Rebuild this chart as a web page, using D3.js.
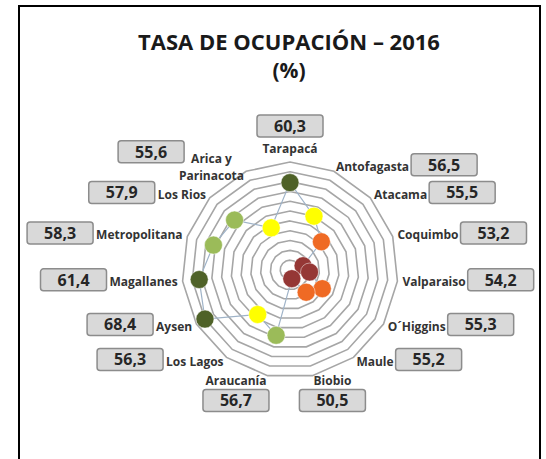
<!DOCTYPE html>
<html>
<head>
<meta charset="utf-8">
<script src="https://cdn.jsdelivr.net/npm/d3@7"></script>
<style>
  body { margin: 0; background: #fff; }
  svg text { font-family: "Open Sans", "DejaVu Sans", sans-serif; }
</style>
</head>
<body>
<div id="radar-chart"></div>
<script>
// regiones en orden horario desde arriba
var regiones = ["Tarapacá", "Antofagasta", "Atacama", "Coquimbo", "Valparaiso", "O´Higgins", "Maule",
    "Biobio", "Araucanía", "Los Lagos", "Aysen", "Magallanes", "Metropolitana", "Los Rios", "Arica y Parinacota"];

// tasa de ocupacion 2016 (%)
var tasa = [60.3, 56.5, 55.5, 53.2, 54.2, 55.3, 55.2, 50.5, 56.7, 56.3, 68.4, 61.4, 58.3, 57.9, 55.6];

// valor graficado en el eje radial (escala 0-11)
var posicion = [8.9, 6.0, 4.3, 1.4, 2.0, 3.8, 2.8, 0.9, 6.8, 5.6, 10.0, 9.3, 8.2, 7.6, 4.7];

var anillos = d3.range(1, 12);
var cortes = [55, 55.55, 56.6, 59];
var colores = ["#953735", "#ef6a24", "#ffff00", "#9bbb59", "#4f6228"];

drawRadar();

function drawRadar() {
    var width = 546, height = 459;
    var cx = 290, cy = 270, R = 108;

    var svg = d3.select("#radar-chart").append("svg")
        .attr("width", width)
        .attr("height", height);

    // marco
    svg.append("rect")
        .attr("x", 19).attr("y", 6)
        .attr("width", 521).attr("height", 480)
        .attr("fill", "none")
        .attr("stroke", "#000")
        .attr("stroke-width", 2);

    svg.append("text")
        .attr("x", 289).attr("y", 50)
        .attr("text-anchor", "middle")
        .attr("font-size", 22).attr("font-weight", "bold")
        .attr("fill", "#1a1a1a")
        .text("TASA DE OCUPACIÓN – 2016");

    svg.append("text")
        .attr("x", 289).attr("y", 78)
        .attr("text-anchor", "middle")
        .attr("font-size", 21).attr("font-weight", "bold")
        .attr("fill", "#1a1a1a")
        .text("(%)");

    var angle = d3.scaleBand().domain(regiones).range([0, 2 * Math.PI]);
    var r = d3.scaleLinear().domain([0, 11]).range([0, R]);
    var color = d3.scaleThreshold().domain(cortes).range(colores);
    var fmt = d3.formatLocale({decimal: ",", thousands: ".", grouping: [3], currency: ["$", ""]}).format(".1f");

    var g = svg.append("g").attr("transform", "translate(" + cx + "," + cy + ")");

    // anillos poligonales
    g.selectAll(".anillo")
        .data(anillos)
        .enter().append("path")
        .attr("class", "anillo")
        .attr("fill", "none")
        .attr("stroke", "#a6a6a6")
        .attr("stroke-width", 1.6)
        .attr("d", function(k) {
            return d3.lineRadial()
                .angle(function(d) { return angle(d); })
                .radius(r(k))
                .curve(d3.curveLinearClosed)(regiones);
        });

    var datos = regiones.map(function(d, i) {
        return {region: d, tasa: tasa[i], pos: posicion[i]};
    });

    // linea de la serie
    g.append("path")
        .datum(datos)
        .attr("fill", "none")
        .attr("stroke", "#9fb3c8")
        .attr("stroke-width", 1.2)
        .attr("d", d3.lineRadial()
            .angle(function(d) { return angle(d.region); })
            .radius(function(d) { return r(d.pos); })
            .curve(d3.curveLinearClosed));

    g.selectAll(".punto")
        .data(datos)
        .enter().append("circle")
        .attr("class", "punto")
        .attr("cx", function(d) { return r(d.pos) * Math.sin(angle(d.region)); })
        .attr("cy", function(d) { return -r(d.pos) * Math.cos(angle(d.region)); })
        .attr("r", 9)
        .attr("fill", function(d) { return color(d.tasa); })
        .attr("stroke", "rgba(255,255,255,0.6)")
        .attr("stroke-width", 0.8);

    // etiquetas de region y cajas de valor
    datos.forEach(function(d) {
        var a = angle(d.region), s = Math.sin(a), c = Math.cos(a);
        var rl = R + 5;
        var x = rl * s, y = -rl * c;
        var anchor = Math.abs(s) < 0.01 ? "middle" : (s > 0 ? "start" : "end");
        if (anchor == "middle") { y = -121; }

        var lab = g.append("g");
        var lineas = d.region == "Arica y Parinacota" ? ["Arica y", "Parinacota"] : [d.region];
        var txt = lab.selectAll("text")
            .data(lineas)
            .enter().append("text")
            .attr("y", function(t, j) { return lineas.length > 1 ? y + (j == 0 ? -8 : 9) : y; })
            .attr("dy", "0.35em")
            .attr("font-size", 12).attr("font-weight", "bold")
            .attr("fill", "#333")
            .text(function(t) { return t; });

        var ws = [];
        txt.each(function() { ws.push(this.getComputedTextLength()); });
        var wmax = d3.max(ws);

        var bw = 66, bh = 22, bx, by;
        if (lineas.length > 1) {
            // bloque de dos lineas centrado, borde derecho en x
            txt.attr("x", x - wmax / 2).attr("text-anchor", "middle");
            bx = x - wmax / 2 - ws[0] / 2 - 7 - bw;
            by = y - 8 - 7 - bh / 2;
        } else {
            txt.attr("x", x).attr("text-anchor", anchor);
            if (anchor == "middle") {
                bx = x - bw / 2; by = y - 12 - bh;
            } else if (Math.abs(c) > 0.97 && c < 0) {
                // abajo: caja bajo el texto
                var xm = anchor == "start" ? x + wmax / 2 : x - wmax / 2;
                bx = xm - bw / 2; by = y + 9;
            } else if (anchor == "start") {
                bx = x + wmax + 2; by = y - 2 - bh / 2;
            } else {
                bx = x - wmax - 3 - bw; by = y - 2 - bh / 2;
            }
        }

        lab.append("rect")
            .attr("x", bx).attr("y", by)
            .attr("width", bw).attr("height", bh)
            .attr("rx", 3)
            .attr("fill", "#d9d9d9")
            .attr("stroke", "#8c8c8c")
            .attr("stroke-width", 1.5);

        lab.append("text")
            .attr("x", bx + bw / 2).attr("y", by + bh / 2)
            .attr("dy", "0.36em")
            .attr("text-anchor", "middle")
            .attr("font-size", 16).attr("font-weight", "bold")
            .attr("fill", "#262626")
            .text(fmt(d.tasa));
    });
}
</script>
</body>
</html>
